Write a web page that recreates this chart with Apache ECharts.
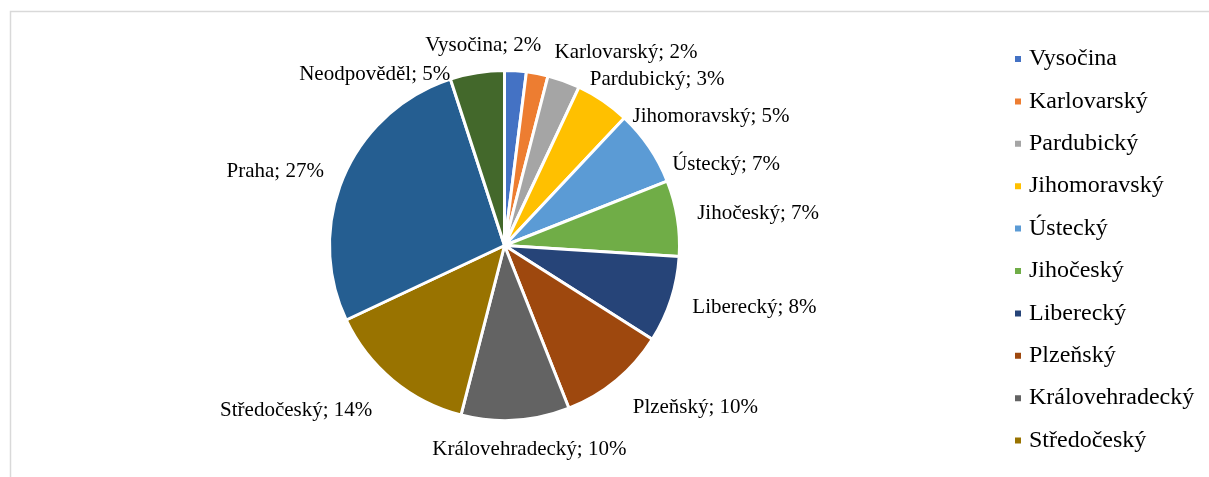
<!DOCTYPE html>
<html>
<head>
<meta charset="utf-8">
<script src="https://cdn.jsdelivr.net/npm/echarts@6/dist/echarts.min.js"></script>
<style>
  html, body { margin: 0; padding: 0; background: #ffffff; }
  #chart { width: 1209px; height: 477px; }
</style>
</head>
<body>
<div id="chart"></div>
<script>
// ---- data ----
const categories = ['Vysočina', 'Karlovarský', 'Pardubický', 'Jihomoravský', 'Ústecký', 'Jihočeský',
  'Liberecký', 'Plzeňský', 'Královehradecký', 'Středočeský', 'Praha', 'Neodpověděl'];
const percents = [2, 2, 3, 5, 7, 7, 8, 10, 10, 14, 27, 5];
const legendNames = categories.slice(0, 10);

// ---- styling ----
const colors = ['#4472C4', '#ED7D31', '#A5A5A5', '#FFC000', '#5B9BD5', '#70AD47',
  '#264478', '#9E480E', '#636363', '#997300', '#255E91', '#43682B'];
// label nudges (px) relative to the library's default outside label placement
const labelNudge = [
  [-100, -13], [6, -9], [13, 10], [14, 26], [4, 24], [-1, -3],
  [1, 4], [0, 18], [-93, 17], [-4, 21], [0, 0], [-16, 14]
];

const chart = echarts.init(document.getElementById('chart'));
const font = "'Liberation Serif', 'Times New Roman', serif";

chart.setOption({
  animation: false,
  backgroundColor: '#ffffff',
  color: colors,
  graphic: [{
    type: 'rect',
    silent: true,
    z: -10,
    shape: { x: 10.5, y: 11.5, width: 1400, height: 700 },
    style: { fill: 'none', stroke: '#d9d9d9', lineWidth: 1.5 }
  }],
  legend: {
    orient: 'vertical',
    left: 1008,
    top: 42,
    data: legendNames,
    icon: 'rect',
    itemWidth: 8,
    itemHeight: 8,
    itemGap: 18.4,
    textStyle: { fontFamily: font, fontSize: 24, color: '#000000', padding: [0, 0, 0, 2] }
  },
  series: [{
    type: 'pie',
    center: [504.5, 245.5],
    radius: 175,
    startAngle: 90,
    clockwise: true,
    avoidLabelOverlap: false,
    data: categories.map((name, i) => ({ name: name, value: percents[i] })),
    itemStyle: { borderColor: '#ffffff', borderWidth: 3 },
    label: {
      show: true,
      position: 'outside',
      formatter: '{b}; {c}%',
      fontFamily: font,
      fontSize: 21,
      color: '#000000',
      distanceToLabelLine: 5
    },
    labelLine: { show: false, length: 12, length2: 4 },
    emphasis: { disabled: true },
    labelLayout: function (params) {
      const n = labelNudge[params.dataIndex] || [0, 0];
      return { dx: n[0], dy: n[1] };
    }
  }]
});
</script>
</body>
</html>
